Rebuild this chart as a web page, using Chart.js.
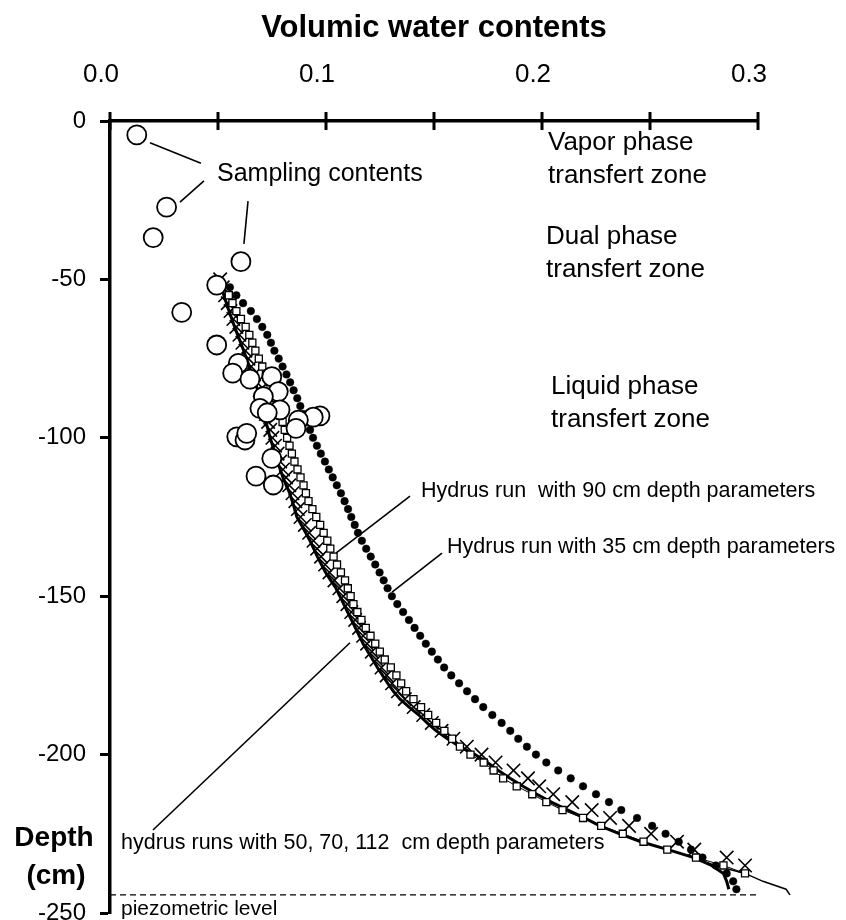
<!DOCTYPE html>
<html>
<head>
<meta charset="utf-8">
<script src="https://cdn.jsdelivr.net/npm/chart.js@4.4.1/dist/chart.umd.min.js"></script>
<style>
  html, body { margin: 0; padding: 0; background: #fff; }
</style>
</head>
<body>
<canvas id="chart" width="846" height="920"></canvas>
<script>
// measured soil samples (volumic water content, depth in cm)
var sampleX = [0.0124, 0.0262, 0.0200, 0.0606, 0.0494, 0.0332, 0.0494, 0.0594, 0.0568, 0.0648,
               0.0749, 0.0779, 0.0710, 0.0694, 0.0787, 0.0728, 0.0972, 0.0941, 0.0872, 0.0861,
               0.0587, 0.0625, 0.0633, 0.0749, 0.0676, 0.0756];
var sampleY = [-4.4, -27.2, -36.8, -44.4, -51.8, -60.4, -70.7, -76.5, -79.6, -81.5,
               -80.7, -85.4, -87.0, -90.7, -91.2, -92.1, -93.1, -93.5, -94.4, -97.0,
               -99.7, -100.7, -98.6, -106.5, -112.1, -114.9];

// depth nodes of the Hydrus runs
var depths = [-50, -52.5, -55, -57.5, -60, -62.5, -65, -67.5, -70, -72.5, -75, -77.5, -80, -82.5, -85, -87.5,
              -90, -92.5, -95, -97.5, -100, -102.5, -105, -107.5, -110, -112.5, -115, -117.5, -120, -122.5,
              -125, -127.5, -130, -132.5, -135, -137.5, -140, -142.5, -145, -147.5, -150, -152.5, -155, -157.5,
              -160, -162.5, -165, -167.5, -170, -172.5, -175, -177.5, -180, -182.5, -185, -187.5, -190, -192.5,
              -195, -197.5, -200, -202.5, -205, -207.5, -210, -212.5, -215, -217.5, -220, -222.5, -225, -227.5,
              -230, -232.5, -235, -237.5, -240, -242.5];

// Hydrus run with 35 cm depth parameters (filled dots)
var run35 = [null, 0.0555, 0.0585, 0.0616, 0.0652, 0.0680, 0.0705, 0.0728, 0.0745, 0.0761, 0.0781, 0.0799, 0.0817,
             0.0834, 0.0850, 0.0867, 0.0881, 0.0896, 0.0911, 0.0926, 0.0940, 0.0958, 0.0976, 0.0995, 0.1013,
             0.1031, 0.1050, 0.1069, 0.1086, 0.1102, 0.1117, 0.1133, 0.1148, 0.1166, 0.1186, 0.1207, 0.1228,
             0.1248, 0.1267, 0.1285, 0.1305, 0.1330, 0.1357, 0.1384, 0.1410, 0.1436, 0.1462, 0.1490, 0.1518,
             0.1547, 0.1580, 0.1616, 0.1653, 0.1690, 0.1728, 0.1770, 0.1813, 0.1853, 0.1890, 0.1930, 0.1972,
             0.2020, 0.2075, 0.2133, 0.2190, 0.2250, 0.2310, 0.2367, 0.2440, 0.2510, 0.2572, 0.2633, 0.2690,
             0.2743, 0.2805, 0.2855, 0.2885, 0.2900];

// Hydrus run with 90 cm depth parameters (open squares)
var run90 = [null, null, 0.0550, 0.0567, 0.0585, 0.0606, 0.0628, 0.0645, 0.0659, 0.0673, 0.0689, 0.0705, 0.0722,
             0.0740, 0.0757, 0.0769, 0.0779, 0.0789, 0.0799, 0.0809, 0.0820, 0.0831, 0.0842, 0.0854, 0.0868,
             0.0882, 0.0896, 0.0907, 0.0919, 0.0937, 0.0955, 0.0973, 0.0989, 0.1006, 0.1020, 0.1035, 0.1051,
             0.1069, 0.1088, 0.1101, 0.1114, 0.1127, 0.1145, 0.1164, 0.1184, 0.1206, 0.1228, 0.1249, 0.1272,
             0.1300, 0.1326, 0.1348, 0.1371, 0.1405, 0.1440, 0.1473, 0.1510, 0.1548, 0.1584, 0.1620, 0.1669,
             0.1730, 0.1776, 0.1820, 0.1883, 0.1955, 0.2020, 0.2095, 0.2190, 0.2274, 0.2374, 0.2470, 0.2580,
             0.2713, 0.2840, 0.2940, null, null];

// Hydrus runs with 50, 70, 112 cm depth parameters (crosses, thick line, thin line)
var run50 = [0.0510, 0.0522, 0.0533, 0.0545, 0.0558, 0.0571, 0.0585, 0.0599, 0.0613, 0.0627, 0.0641, 0.0654,
             0.0667, 0.0680, 0.0693, 0.0703, 0.0713, 0.0722, 0.0732, 0.0742, 0.0752, 0.0764, 0.0776, 0.0788,
             0.0801, 0.0815, 0.0830, 0.0845, 0.0858, 0.0870, 0.0882, 0.0902, 0.0922, 0.0942, 0.0959, 0.0977,
             0.0996, 0.1016, 0.1039, 0.1062, 0.1080, 0.1099, 0.1117, 0.1135, 0.1153, 0.1172, 0.1190, 0.1212,
             0.1234, 0.1257, 0.1281, 0.1306, 0.1333, 0.1365, 0.1406, 0.1450, 0.1490, 0.1535, 0.1590, 0.1652,
             0.1720, 0.1785, 0.1868, 0.1935, 0.1987, 0.2052, 0.2140, 0.2230, 0.2315, 0.2403, 0.2505, 0.2625,
             0.2705, 0.2855, 0.2940, null, null, null];
var run70 = [0.0505, 0.0516, 0.0527, 0.0539, 0.0551, 0.0564, 0.0577, 0.0591, 0.0605, 0.0619, 0.0632, 0.0645,
             0.0658, 0.0671, 0.0684, 0.0694, 0.0703, 0.0712, 0.0722, 0.0732, 0.0741, 0.0753, 0.0764, 0.0775,
             0.0788, 0.0801, 0.0816, 0.0832, 0.0844, 0.0855, 0.0865, 0.0886, 0.0906, 0.0926, 0.0943, 0.0960,
             0.0979, 0.0998, 0.1022, 0.1046, 0.1064, 0.1082, 0.1100, 0.1118, 0.1136, 0.1154, 0.1172, 0.1194,
             0.1216, 0.1238, 0.1262, 0.1286, 0.1312, 0.1343, 0.1385, 0.1430, 0.1468, 0.1510, 0.1562, 0.1620,
             0.1690, 0.1747, 0.1798, 0.1852, 0.1912, 0.1976, 0.2043, 0.2120, 0.2196, 0.2268, 0.2360, 0.2458,
             0.2583, 0.2703, 0.2785, 0.2840, 0.2855, 0.2865];
var run112 = [0.0505, 0.0516, 0.0527, 0.0539, 0.0551, 0.0564, 0.0577, 0.0591, 0.0605, 0.0619, 0.0632, 0.0645,
              0.0658, 0.0671, 0.0684, 0.0694, 0.0703, 0.0712, 0.0722, 0.0732, 0.0741, 0.0753, 0.0764, 0.0775,
              0.0788, 0.0801, 0.0816, 0.0832, 0.0844, 0.0855, 0.0865, 0.0886, 0.0906, 0.0926, 0.0943, 0.0960,
              0.0979, 0.0998, 0.1022, 0.1046, 0.1064, 0.1082, 0.1100, 0.1118, 0.1136, 0.1154, 0.1172, 0.1194,
              0.1216, 0.1238, 0.1262, 0.1286, 0.1312, 0.1343, 0.1385, 0.1430, 0.1468, 0.1510, 0.1562, 0.1620,
              0.1690, 0.1747, 0.1798, 0.1852, 0.1912, 0.1976, 0.2043, 0.2120, 0.2196, 0.2268, 0.2360, 0.2458,
              0.2583, 0.2703, 0.2800, 0.2940, 0.3023, 0.3130];
var run112TailX = [0.3148];
var run112TailY = [-244.3];

// water table
var piezoLevel = -244.3;

var xTickLabels = ['0.0', '0.1', '0.2', '0.3'];

function pts(xs, ys) {
  var out = [];
  for (var i = 0; i < xs.length; i++) {
    if (xs[i] !== null) out.push({ x: xs[i], y: ys[i] });
  }
  return out;
}

var FONT = '"Liberation Sans", Arial, sans-serif';
Chart.defaults.font.family = FONT;
Chart.defaults.color = '#000';

// text notes (pixel positions) and leader lines (data units)
var notes = [
  { t: 'Sampling contents', x: 217, y: 174, size: 25 },
  { t: 'Vapor phase', x: 548, y: 143, size: 26 },
  { t: 'transfert zone', x: 548, y: 176, size: 26 },
  { t: 'Dual phase', x: 546, y: 237, size: 26 },
  { t: 'transfert zone', x: 546, y: 270, size: 26 },
  { t: 'Liquid phase', x: 551, y: 387, size: 26 },
  { t: 'transfert zone', x: 551, y: 420, size: 26 },
  { t: 'Hydrus run  with 90 cm depth parameters', x: 421, y: 491, size: 21.5 },
  { t: 'Hydrus run with 35 cm depth parameters', x: 447, y: 547, size: 21.5 },
  { t: 'hydrus runs with 50, 70, 112  cm depth parameters', x: 121, y: 843, size: 21.5 },
  { t: 'piezometric level', x: 121, y: 909, size: 21 }
];
var leaders = [
  [0.0185, -6.9, 0.0421, -13.3],
  [0.0324, -25.6, 0.0435, -18.9],
  [0.0639, -25.3, 0.0620, -38.8],
  [0.1389, -118.4, 0.1046, -136.4],
  [0.1537, -136.4, 0.1306, -148.7],
  [0.1111, -164.7, 0.0199, -223.8]
];

var overlay = {
  id: 'overlay',
  afterDraw: function(chart) {
    var ctx = chart.ctx, xs = chart.scales.x, ys = chart.scales.y;
    ctx.save();
    ctx.strokeStyle = '#000';
    ctx.fillStyle = '#000';
    // tick marks crossing the top axis
    ctx.lineWidth = 3;
    xs.ticks.forEach(function(t) {
      var px = xs.getPixelForValue(t.value);
      ctx.beginPath();
      ctx.moveTo(px, ys.top - 9);
      ctx.lineTo(px, ys.top + 9);
      ctx.stroke();
    });
    // leader lines
    ctx.lineWidth = 1.6;
    leaders.forEach(function(l) {
      ctx.beginPath();
      ctx.moveTo(xs.getPixelForValue(l[0]), ys.getPixelForValue(l[1]));
      ctx.lineTo(xs.getPixelForValue(l[2]), ys.getPixelForValue(l[3]));
      ctx.stroke();
    });
    // notes
    ctx.textAlign = 'left';
    ctx.textBaseline = 'middle';
    notes.forEach(function(n) {
      ctx.font = n.size + 'px ' + FONT;
      ctx.fillText(n.t, n.x, n.y);
    });
    // y axis title
    ctx.textAlign = 'center';
    ctx.font = 'bold 28px ' + FONT;
    ctx.fillText('Depth', 54, 838);
    ctx.fillText('(cm)', 56, 876);
    ctx.restore();
  }
};

var ctx = document.getElementById('chart').getContext('2d');
var chart = new Chart(ctx, {
  type: 'scatter',
  data: {
    datasets: [
      {
        label: 'Sampling contents',
        data: pts(sampleX, sampleY),
        pointStyle: 'circle',
        pointRadius: 9.5,
        pointBackgroundColor: '#fff',
        pointBorderColor: '#000',
        pointBorderWidth: 1.8
      },
      {
        label: 'Hydrus 90 cm',
        data: pts(run90, depths),
        showLine: true,
        borderColor: '#000',
        borderWidth: 1,
        pointStyle: 'rect',
        pointRadius: 5,
        pointBackgroundColor: '#fff',
        pointBorderColor: '#000',
        pointBorderWidth: 1.3
      },
      {
        label: 'Hydrus 50 cm',
        data: pts(run50, depths),
        pointStyle: 'crossRot',
        pointRadius: 9.5,
        pointBorderColor: '#000',
        pointBorderWidth: 1.6
      },
      {
        label: 'Hydrus 35 cm',
        data: pts(run35, depths),
        pointStyle: 'circle',
        pointRadius: 3.8,
        pointBackgroundColor: '#000',
        pointBorderColor: '#000',
        pointBorderWidth: 0.5
      },
      {
        label: 'Hydrus 70 cm',
        data: pts(run70, depths),
        showLine: true,
        borderColor: '#000',
        borderWidth: 3,
        pointRadius: 0
      },
      {
        // listed bottom-up so the tail beyond 0.3 is not trimmed
        label: 'Hydrus 112 cm',
        data: pts(run112, depths).concat(pts(run112TailX, run112TailY)).reverse(),
        showLine: true,
        borderColor: '#000',
        borderWidth: 1.5,
        pointRadius: 0,
        clip: false
      },
      {
        label: 'piezometric level',
        data: [{ x: 0, y: piezoLevel }, { x: 0.3, y: piezoLevel }],
        showLine: true,
        borderColor: '#000',
        borderWidth: 1.2,
        borderDash: [6, 4],
        pointRadius: 0
      }
    ]
  },
  options: {
    responsive: false,
    animation: false,
    layout: { autoPadding: false, padding: { left: 0, right: 88, top: 0, bottom: 7 } },
    plugins: { legend: { display: false }, tooltip: { enabled: false } },
    scales: {
      x: {
        type: 'linear',
        position: 'top',
        min: 0,
        max: 0.3,
        afterFit: function(s) { s.height = 121; s.paddingLeft = 0; s.paddingRight = 0; },
        ticks: {
          stepSize: 0.05,
          autoSkip: false,
          maxRotation: 0,
          padding: 31,
          labelOffset: -9,
          font: { size: 26 },
          color: '#000',
          callback: function(v) {
            var k = Math.round(v * 100);
            return k % 10 === 0 ? xTickLabels[k / 10] : '';
          }
        },
        grid: { drawOnChartArea: false, drawTicks: false },
        border: { width: 3.5, color: '#000' },
        title: {
          display: true,
          text: 'Volumic water contents',
          font: { size: 31, weight: 'bold' },
          color: '#000',
          padding: { top: 10, bottom: 0 }
        }
      },
      y: {
        type: 'linear',
        min: -250,
        max: 0,
        afterFit: function(s) { s.width = 110; s.paddingTop = 0; s.paddingBottom = 0; },
        ticks: { stepSize: 50, padding: 14, font: { size: 24 }, color: '#000' },
        grid: { drawOnChartArea: false, drawTicks: true, tickLength: 10, tickWidth: 3, tickColor: '#000' },
        border: { width: 3.5, color: '#000' }
      }
    }
  },
  plugins: [overlay]
});
</script>
</body>
</html>
